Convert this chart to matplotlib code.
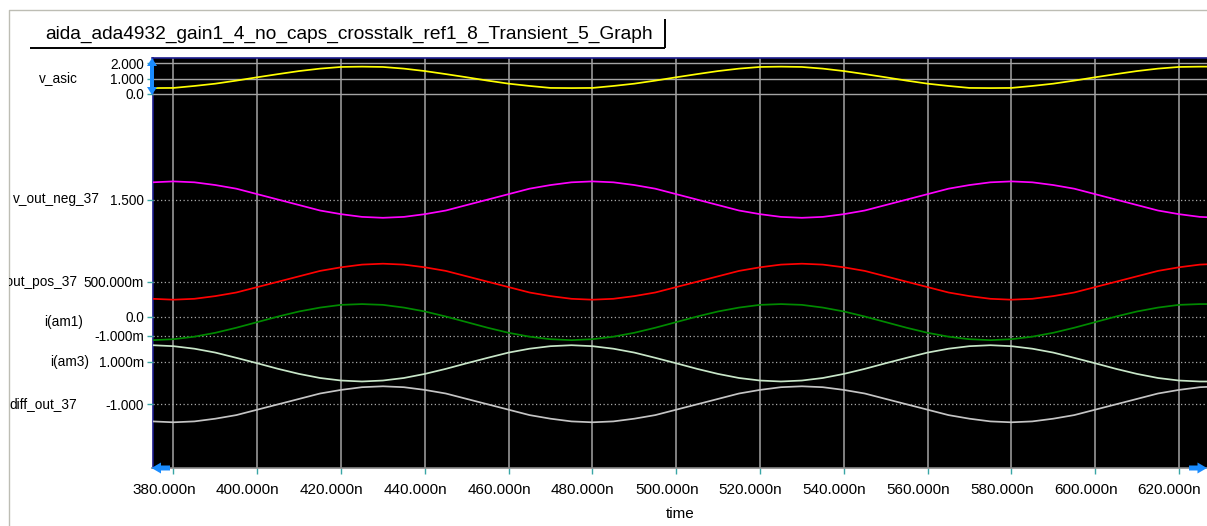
import matplotlib
matplotlib.use('Agg')
import matplotlib.pyplot as plt
from matplotlib.lines import Line2D
from matplotlib.patches import Polygon
from matplotlib.transforms import Bbox, IdentityTransform, ScaledTranslation

W, H = 1207, 526
plt.rcParams['font.family'] = ['Liberation Sans', 'DejaVu Sans']

# ---------------- data ----------------
time_ns = [375, 380, 385, 390, 395, 400, 405, 410, 415, 420,
           425, 430, 435, 440, 445, 450, 455, 460, 465, 470,
           475, 480, 485, 490, 495, 500, 505, 510, 515, 520,
           525, 530, 535, 540, 545, 550, 555, 560, 565, 570,
           575, 580, 585, 590, 595, 600, 605, 610, 615, 620,
           625, 630]

v_asic = [0.37, 0.38, 0.51, 0.66, 0.86, 1.08, 1.29, 1.49, 1.65, 1.76,
          1.78, 1.76, 1.65, 1.49, 1.29, 1.08, 0.86, 0.66, 0.51, 0.38,
          0.37, 0.38, 0.51, 0.66, 0.86, 1.08, 1.29, 1.49, 1.65, 1.76,
          1.78, 1.76, 1.65, 1.49, 1.29, 1.08, 0.86, 0.66, 0.51, 0.38,
          0.37, 0.38, 0.51, 0.66, 0.86, 1.08, 1.29, 1.49, 1.65, 1.76,
          1.78, 1.78]

v_out_neg_37 = [1.69,
                1.70, 1.69, 1.66, 1.62, 1.56, 1.50, 1.44, 1.38, 1.34, 1.31,
                1.30, 1.31, 1.34, 1.38, 1.44, 1.50, 1.56, 1.62, 1.66, 1.69,
                1.70, 1.69, 1.66, 1.62, 1.56, 1.50, 1.44, 1.38, 1.34, 1.31,
                1.30, 1.31, 1.34, 1.38, 1.44, 1.50, 1.56, 1.62, 1.66, 1.69,
                1.70, 1.69, 1.66, 1.62, 1.56, 1.50, 1.44, 1.38, 1.34, 1.31,
                1.30]

v_out_pos_37 = [0.31,
                0.30, 0.31, 0.34, 0.38, 0.44, 0.50, 0.56, 0.62, 0.66, 0.69,
                0.70, 0.69, 0.66, 0.62, 0.56, 0.50, 0.44, 0.38, 0.34, 0.31,
                0.30, 0.31, 0.34, 0.38, 0.44, 0.50, 0.56, 0.62, 0.66, 0.69,
                0.70, 0.69, 0.66, 0.62, 0.56, 0.50, 0.44, 0.38, 0.34, 0.31,
                0.30, 0.31, 0.34, 0.38, 0.44, 0.50, 0.56, 0.62, 0.66, 0.69,
                0.70]

i_am1_mA = [-1.22, -1.17, -1.04, -0.84, -0.58, -0.29, 0.00, 0.26, 0.46, 0.60,
            0.64, 0.60, 0.46, 0.26, 0.00, -0.29, -0.58, -0.84, -1.04, -1.17,
            -1.22, -1.17, -1.04, -0.84, -0.58, -0.29, 0.00, 0.26, 0.46, 0.60,
            0.64, 0.60, 0.46, 0.26, 0.00, -0.29, -0.58, -0.84, -1.04, -1.17,
            -1.22, -1.17, -1.04, -0.84, -0.58, -0.29, 0.00, 0.26, 0.46, 0.60,
            0.64, 0.64]

i_am3_mA = [1.85, 1.80, 1.67, 1.47, 1.20, 0.92, 0.63, 0.37, 0.16, 0.03,
            -0.02, 0.03, 0.16, 0.37, 0.63, 0.92, 1.20, 1.47, 1.67, 1.80,
            1.85, 1.80, 1.67, 1.47, 1.20, 0.92, 0.63, 0.37, 0.16, 0.03,
            -0.02, 0.03, 0.16, 0.37, 0.63, 0.92, 1.20, 1.47, 1.67, 1.80,
            1.85, 1.80, 1.67, 1.47, 1.20, 0.92, 0.63, 0.37, 0.16, 0.03,
            -0.02, -0.02]

diff_out_37 = [-1.38,
               -1.40, -1.38, -1.32, -1.24, -1.12, -1.00, -0.88, -0.76, -0.68, -0.62,
               -0.60, -0.62, -0.68, -0.76, -0.88, -1.00, -1.12, -1.24, -1.32, -1.38,
               -1.40, -1.38, -1.32, -1.24, -1.12, -1.00, -0.88, -0.76, -0.68, -0.62,
               -0.60, -0.62, -0.68, -0.76, -0.88, -1.00, -1.12, -1.24, -1.32, -1.38,
               -1.40, -1.38, -1.32, -1.24, -1.12, -1.00, -0.88, -0.76, -0.68, -0.62,
               -0.60]

x_ticks = [380, 400, 420, 440, 460, 480, 500, 520, 540, 560, 580, 600, 620]
x_tick_labels = ['380.000n', '400.000n', '420.000n', '440.000n', '460.000n',
                 '480.000n', '500.000n', '520.000n', '540.000n', '560.000n',
                 '580.000n', '600.000n', '620.000n']

title = 'aida_ada4932_gain1_4_no_caps_crosstalk_ref1_8_Transient_5_Graph'

# ---------------- layout (pixels) ----------------
PL, PR, PT, PB = 152.5, 1207.0, 58.3, 467.5
XMIN, XMAX = 375.0, 626.7

def fr(l, t, r, b):
    return [l / W, 1 - b / H, (r - l) / W, (b - t) / H]

fig = plt.figure(figsize=(W / 100, H / 100), dpi=100)
fig.patch.set_facecolor('white')

ax = fig.add_axes(fr(PL, PT, PR, PB), facecolor='black')
ax.set_xlim(XMIN, XMAX)
ax.set_ylim(0, 1)
ax.set_yticks([])
ax.set_xticks(x_ticks, x_tick_labels)
ax.tick_params(axis='x', length=4.5, width=1, color='#3aa6a6', labelsize=11,
               pad=6.5, labelcolor='black')
shift = ScaledTranslation(-9.5 / 100, 0, fig.dpi_scale_trans)
for lab in ax.get_xticklabels():
    lab.set_transform(lab.get_transform() + shift)
ax.xaxis.grid(True, color='#a4a4a4', lw=1.1)
ax.set_axisbelow(True)
for s in ('top', 'left'):
    ax.spines[s].set_color('#1c1c8c')
    ax.spines[s].set_linewidth(1.2)
ax.spines['bottom'].set_color('#8a8a8a')
ax.spines['bottom'].set_linewidth(1.2)
ax.spines['right'].set_visible(False)
ax.set_xlabel('time', fontsize=11, labelpad=7)

strips = [
    dict(name='v_asic', y=v_asic, color='#ffff00', ref=0.0, ref_px=93.7, s=15.2,
         ticks=[0.0, 1.0, 2.0], labels=['0.0', '1.000', '2.000'], solid=True,
         name_x=78, name_y=78),
    dict(name='v_out_neg_37', y=v_out_neg_37, color='#ff00ff', ref=1.5, ref_px=199.6,
         s=91.0, ticks=[1.5], labels=['1.500'], solid=False, name_x=100, name_y=199),
    dict(name='v_out_pos_37', y=v_out_pos_37, color='#ff0000', ref=0.5, ref_px=281.7,
         s=90.0, ticks=[0.5], labels=['500.000m'], solid=False, name_x=77.5, name_y=282),
    dict(name='i(am1)', y=i_am1_mA, color='#008a00', ref=0.0, ref_px=316.5, s=19.4,
         ticks=[0.0, -1.0], labels=['0.0', '-1.000m'], solid=False, name_x=83, name_y=322),
    dict(name='i(am3)', y=i_am3_mA, color='#c8e6c8', ref=1.0, ref_px=361.7, s=19.4,
         ticks=[1.0], labels=['1.000m'], solid=False, name_x=89, name_y=362),
    dict(name='diff_out_37', y=diff_out_37, color='#c4c4c4', ref=-1.0, ref_px=404.3,
         s=45.0, ticks=[-1.0], labels=['-1.000'], solid=False, name_x=77, name_y=404),
]

clip = Bbox.from_extents(8.5, 0, W, H)
for st in strips:
    a = fig.add_axes(fr(PL, PT, PR, PB), facecolor='none')
    a.set_xlim(XMIN, XMAX)
    lo = st['ref'] - (PB - st['ref_px']) / st['s']
    hi = st['ref'] + (st['ref_px'] - PT) / st['s']
    a.set_ylim(lo, hi)
    for sp in a.spines.values():
        sp.set_visible(False)
    a.set_xticks([])
    a.set_yticks(st['ticks'], st['labels'])
    a.tick_params(axis='y', length=4.5, width=1, color='#3aa6a6', labelsize=9.8,
                  pad=1.5, labelcolor='black')
    for tv in st['ticks']:
        if st['solid']:
            a.axhline(tv, color='#a4a4a4', lw=1.0, zorder=1)
        else:
            a.axhline(tv, color='#a8a8a8', lw=0.9, ls=(0, (1, 2)), zorder=1)
    a.plot(time_ns, st['y'], color=st['color'], lw=1.25, zorder=3)
    t = fig.text(st['name_x'] / W, 1 - st['name_y'] / H, st['name'], fontsize=9.8,
                 ha='right', va='center')
    t.set_clip_box(clip)
    t.set_clip_on(True)

idt = IdentityTransform()

def P(x, y):
    return (x, H - y)

def line(xs, ys, color, lw):
    fig.add_artist(Line2D(xs, [H - y for y in ys], transform=idt, color=color,
                          lw=lw, solid_capstyle='butt'))

# outer frame
line([8.5, 8.5, W], [H, 9.5, 9.5], '#bdbdb4', 1.0)
# title box (bottom + right edges)
line([30, 665], [47.5, 47.5], 'black', 1.4)
line([664.5, 664.5], [19, 47.5], 'black', 1.4)
fig.text(349 / W, 1 - 34 / H, title, fontsize=13.8, ha='center', va='center')

blue = '#1a8cff'
# double arrow on v_asic strip
xa = 152.0
fig.add_artist(Polygon([P(xa, 58), P(xa + 5, 66), P(xa + 2, 66), P(xa + 2, 87),
                        P(xa + 5, 87), P(xa, 95), P(xa - 5, 87), P(xa - 2, 87),
                        P(xa - 2, 66), P(xa - 5, 66)], closed=True, transform=idt,
                       facecolor=blue, edgecolor='none', zorder=10))
# left / right scroll arrows
fig.add_artist(Polygon([P(151.5, 468), P(161, 462.5), P(161, 465.5), P(170, 465.5),
                        P(170, 470.5), P(161, 470.5), P(161, 473.5)], closed=True,
                       transform=idt, facecolor=blue, edgecolor='none', zorder=10))
fig.add_artist(Polygon([P(1207, 468), P(1197.5, 462.5), P(1197.5, 465.5), P(1189, 465.5),
                        P(1189, 470.5), P(1197.5, 470.5), P(1197.5, 473.5)], closed=True,
                       transform=idt, facecolor=blue, edgecolor='none', zorder=10))

fig.savefig('out.png', dpi=100, facecolor='white')
